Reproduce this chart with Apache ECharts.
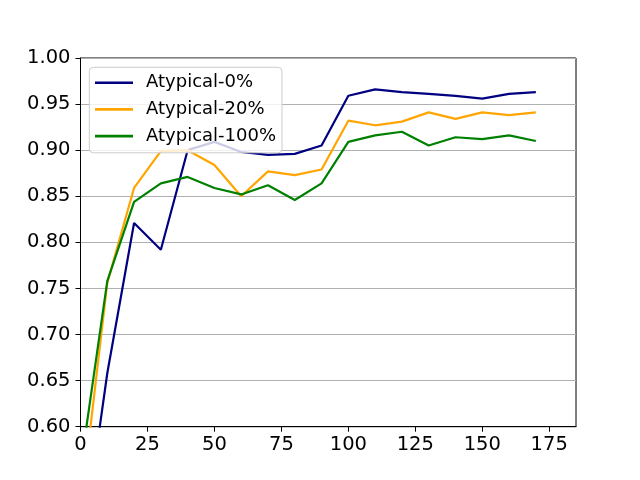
<!DOCTYPE html>
<html>
<head>
<meta charset="utf-8">
<script src="https://cdn.jsdelivr.net/npm/echarts@6/dist/echarts.min.js"></script>
<style>html,body{margin:0;padding:0;background:#fff}#c{width:640px;height:480px}</style>
</head>
<body>
<div id="c"></div>
<script>
const xValues = [0, 10, 20, 30, 40, 50, 60, 70, 80, 90, 100, 110, 120, 130, 140, 150, 160, 170];
const seriesNames = ['Atypical-0%', 'Atypical-20%', 'Atypical-100%'];
const atypical0 = [0.451, 0.658, 0.821, 0.792, 0.900, 0.909, 0.898, 0.895, 0.896, 0.905, 0.959, 0.966, 0.963, 0.961, 0.959, 0.956, 0.961, 0.963];
const atypical20 = [0.507, 0.756, 0.859, 0.899, 0.900, 0.884, 0.850, 0.877, 0.873, 0.879, 0.932, 0.927, 0.931, 0.941, 0.934, 0.941, 0.938, 0.941];
const atypical100 = [0.555, 0.758, 0.844, 0.864, 0.871, 0.859, 0.852, 0.862, 0.846, 0.864, 0.909, 0.916, 0.920, 0.905, 0.914, 0.912, 0.916, 0.910];
const xTicks = [0, 25, 50, 75, 100, 125, 150, 175];
const yTicks = [0.60, 0.65, 0.70, 0.75, 0.80, 0.85, 0.90, 0.95, 1.00];

const colors = ['#000080', '#ffa500', '#008000'];
const allData = [atypical0, atypical20, atypical100];
const font = 'DejaVu Sans';

const chart = echarts.init(document.getElementById('c'), null, {renderer: 'canvas'});
chart.setOption({
  animation: false,
  backgroundColor: '#ffffff',
  grid: {left: 80.5, right: 64, top: 58, bottom: 53.3, show: true, borderColor: '#000', borderWidth: 1, backgroundColor: 'transparent'},
  xAxis: {
    type: 'value', min: 0, max: 185,
    axisLine: {show: true, onZero: false, lineStyle: {color: '#000', width: 1}},
    axisTick: {show: true, inside: false, length: 5, lineStyle: {color: '#000'}, customValues: xTicks},
    axisLabel: {show: true, margin: 8, color: '#000', fontFamily: font, fontSize: 19.5, customValues: xTicks},
    splitLine: {show: false}
  },
  yAxis: {
    type: 'value', min: 0.6, max: 1.0, interval: 0.05,
    axisLine: {show: true, lineStyle: {color: '#000', width: 1}},
    axisTick: {show: true, inside: false, length: 5, lineStyle: {color: '#000'}},
    axisLabel: {show: true, margin: 10, color: '#000', fontFamily: font, fontSize: 19.5,
      formatter: v => v.toFixed(2)},
    splitLine: {show: true, lineStyle: {color: '#b0b0b0', width: 1}}
  },
  legend: {
    show: true, orient: 'vertical', left: 89.3, top: 67.3,
    icon: 'rect', itemWidth: 38, itemHeight: 2.6, itemGap: 8.7,
    padding: [6.4, 6, 7.7, 5.7],
    backgroundColor: 'rgba(255,255,255,0.8)', borderColor: '#cccccc', borderWidth: 1, borderRadius: 4,
    textStyle: {fontFamily: font, fontSize: 18, color: '#000', lineHeight: 18, padding: [0, 0, 0, 8]},
    data: seriesNames
  },
  series: seriesNames.map((name, i) => ({
    name: name, type: 'line', symbol: 'none', showSymbol: false, clip: true,
    lineStyle: {color: colors[i], width: 2.2},
    itemStyle: {color: colors[i]},
    data: xValues.map((x, j) => [x, allData[i][j]])
  }))
});
</script>
</body>
</html>
